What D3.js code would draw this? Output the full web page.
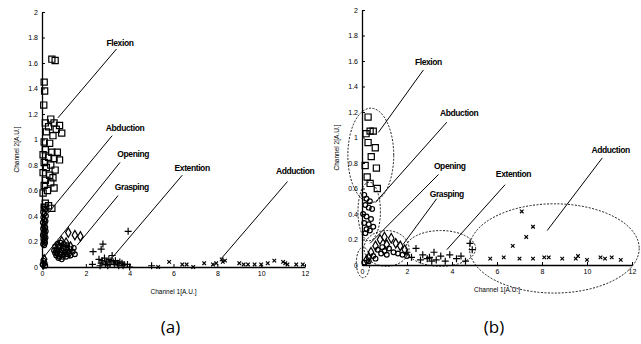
<!DOCTYPE html>
<html>
<head>
<meta charset="utf-8">
<script src="https://cdn.jsdelivr.net/npm/d3@7"></script>
<style>
  body { margin: 0; background: #fff; }
  svg { display: block; font-family: "Liberation Sans", Arial, sans-serif; }
</style>
</head>
<body>
<svg width="641" height="344"></svg>
<script>
// ---- data (Channel 1, Channel 2) in A.U. ----
const xTicks = [0, 2, 4, 6, 8, 10, 12];
const yTicks = [0, 0.2, 0.4, 0.6, 0.8, 1, 1.2, 1.4, 1.6, 1.8, 2];

// panel (a)
const flexionA = [[0.45,1.63],[0.6,1.62],[0.1,1.45],[0.12,1.38],[0.08,1.27],[0.15,1.13],[0.4,1.16],[0.55,1.13],[0.8,1.11],[0.3,1.1],[0.65,1.08],[0.9,1.05],[0.2,1.06],[0.5,1.03],[0.1,0.98],[0.35,0.97],[0.15,0.92],[0.45,0.9],[0.7,0.9],[0.05,0.88],[0.3,0.86],[0.55,0.85],[0.8,0.84],[0.1,0.82],[0.4,0.8],[0.2,0.78],[0.6,0.76],[0.05,0.74],[0.35,0.72],[0.5,0.7],[0.15,0.68],[0.4,0.66],[0.1,0.64],[0.55,0.62],[0.25,0.6],[0.05,0.58],[0.15,0.5],[0.3,0.48],[0.45,0.46],[0.1,0.47]];
const abductionA = [[0.08,0.47],[0.15,0.45],[0.05,0.43],[0.12,0.42],[0.18,0.4],[0.06,0.39],[0.1,0.37],[0.16,0.36],[0.04,0.35],[0.12,0.34],[0.08,0.32],[0.15,0.31],[0.05,0.3],[0.11,0.29],[0.17,0.28],[0.07,0.27],[0.13,0.26],[0.04,0.25],[0.1,0.24],[0.16,0.23],[0.06,0.22],[0.12,0.21],[0.08,0.2],[0.14,0.19],[0.05,0.18],[0.1,0.17],[0.06,0.05],[0.12,0.03],[0.03,0.02],[0.15,0.01]];
const openingA = [[1.2,0.27],[1.5,0.25],[1.75,0.24],[0.9,0.2],[1.1,0.19],[0.75,0.17],[1.3,0.16],[1.0,0.14],[0.65,0.12],[1.25,0.11],[0.1,0.06],[0.05,0.02]];
const graspingA = [[0.7,0.18],[0.85,0.19],[1.0,0.18],[1.15,0.17],[0.6,0.16],[0.8,0.16],[0.95,0.15],[1.1,0.15],[1.3,0.14],[0.65,0.14],[0.75,0.13],[0.9,0.13],[1.05,0.12],[1.2,0.12],[1.4,0.12],[0.6,0.11],[0.7,0.11],[0.85,0.1],[1.0,0.1],[1.15,0.1],[1.3,0.09],[0.65,0.09],[0.8,0.08],[0.95,0.08],[1.1,0.08],[0.75,0.07],[0.9,0.06],[1.5,0.1],[1.45,0.15],[0.55,0.13]];
const extentionA = [[2.33,0.12],[2.7,0.14],[2.78,0.18],[3.93,0.28],[3.2,0.09],[2.6,0.06],[2.75,0.05],[2.85,0.07],[2.95,0.04],[3.05,0.06],[3.15,0.05],[3.25,0.04],[3.35,0.05],[3.45,0.03],[3.55,0.04],[3.65,0.03],[3.75,0.02],[3.9,0.02],[2.7,0.03],[2.9,0.02],[3.1,0.02],[3.3,0.02],[3.5,0.01],[2.65,0.01],[3.0,0.01],[3.7,0.01],[5.0,0.01],[2.3,0.02],[4.0,0.0]];
const adductionA = [[5.8,0.04],[6.4,0.02],[6.6,0.02],[7.4,0.03],[7.8,0.02],[7.95,0.03],[8.2,0.06],[8.35,0.05],[8.25,0.04],[9.0,0.03],[9.2,0.02],[9.4,0.02],[9.7,0.02],[10.0,0.02],[10.3,0.03],[10.6,0.05],[11.0,0.04],[11.1,0.03],[11.2,0.02],[11.6,0.02],[11.9,0.02],[6.9,0.0],[5.3,0.0]];

// panel (b)
const flexionB = [[0.27,1.16],[0.18,1.03],[0.36,1.05],[0.5,1.05],[0.27,0.96],[0.59,0.92],[0.41,0.85],[0.14,0.78],[0.64,0.76],[0.23,0.69],[0.36,0.64],[0.68,0.6]];
const abductionB = [[0.1,0.55],[0.2,0.52],[0.35,0.5],[0.15,0.47],[0.3,0.45],[0.45,0.44],[0.05,0.4],[0.2,0.38],[0.4,0.36],[0.1,0.33],[0.3,0.32],[0.5,0.3],[0.2,0.28],[0.35,0.27],[0.15,0.25]];
const openingB = [[0.8,0.2],[1.0,0.22],[1.3,0.21],[1.5,0.17],[1.7,0.15],[0.6,0.15],[1.1,0.16],[0.4,0.1],[0.3,0.06],[1.9,0.12],[0.2,0.04]];
const graspingB = [[0.7,0.12],[0.9,0.14],[1.0,0.11],[1.2,0.13],[0.85,0.09],[1.1,0.08],[1.4,0.1],[0.5,0.07],[0.6,0.05],[0.3,0.03],[0.1,0.02],[1.6,0.09],[1.8,0.08],[2.0,0.07]];
const extentionB = [[2.4,0.13],[2.7,0.08],[2.9,0.05],[3.0,0.06],[3.2,0.1],[3.3,0.04],[3.5,0.07],[3.7,0.03],[3.9,0.08],[4.2,0.05],[4.4,0.07],[4.8,0.17],[4.9,0.12],[4.6,0.03],[2.2,0.06],[2.0,0.1],[3.1,0.03],[2.6,0.04]];
const adductionB = [[7.1,0.42],[7.6,0.3],[7.3,0.22],[6.7,0.15],[5.7,0.05],[6.3,0.06],[7.0,0.05],[7.6,0.05],[8.1,0.06],[8.3,0.06],[8.9,0.05],[9.5,0.05],[9.6,0.07],[10.0,0.04],[10.6,0.06],[10.8,0.05],[11.1,0.06],[11.5,0.04]];

// cluster ellipses in panel (b): [cx, cy, rx, ry]
const ellipsesB = [[0.39,0.86,1.02,0.37],[0.32,0.42,0.5,0.23],[1.09,0.13,1.0,0.14],[3.5,0.13,1.55,0.14],[8.55,0.13,3.77,0.35],[0.05,0.02,0.3,0.12]];

// annotations: [label, textX, textY, lineFromX, lineFromY, lineToX, lineToY]
const labelsA = [
  ["Flexion", 3.56, 1.76, 3.4, 1.71, 0.73, 1.17],
  ["Abduction", 3.79, 1.09, 3.2, 1.03, 0.27, 0.42],
  ["Opening", 4.16, 0.89, 3.56, 0.82, 0.05, 0.07],
  ["Grasping", 4.1, 0.63, 3.47, 0.56, 1.6, 0.17],
  ["Extention", 6.85, 0.78, 6.4, 0.72, 3.24, 0.08],
  ["Adduction", 11.55, 0.75, 11.2, 0.67, 8.2, 0.07]
];
const labelsB = [
  ["Flexion", 2.95, 1.59, 2.73, 1.53, 0.73, 1.04],
  ["Abduction", 4.32, 1.19, 3.77, 1.12, 0.59, 0.49],
  ["Opening", 3.9, 0.78, 3.4, 0.71, 0.36, 0.17],
  ["Grasping", 3.77, 0.56, 3.32, 0.52, 1.82, 0.16],
  ["Extention", 6.73, 0.71, 6.36, 0.63, 3.77, 0.12],
  ["Adduction", 11.05, 0.9, 10.68, 0.84, 8.23, 0.27]
];

const svg = d3.select("svg");
const ink = "#000";

function drawPanel(opts) {
  const x = d3.scaleLinear().domain([0, 12]).range([opts.x0, opts.x1]);
  const y = d3.scaleLinear().domain([0, 2]).range([opts.y0, opts.y1]);
  const g = svg.append("g");

  // axes (ticks point inward, MATLAB style)
  const xa = g.append("g").attr("transform", `translate(0,${opts.y0})`)
    .call(d3.axisBottom(x).tickValues(xTicks).tickSizeInner(-3).tickSizeOuter(0).tickPadding(4).tickFormat(d3.format("~g")));
  const ya = g.append("g").attr("transform", `translate(${opts.x0},0)`)
    .call(d3.axisLeft(y).tickValues(yTicks).tickSizeInner(-3).tickSizeOuter(0).tickPadding(4).tickFormat(d3.format("~g")));
  [xa, ya].forEach(a => {
    a.select(".domain").attr("stroke", ink).attr("stroke-width", 1.3);
    a.selectAll(".tick line").attr("stroke", ink);
    a.selectAll("text").attr("font-size", 7).attr("fill", ink).attr("font-family", "Liberation Sans, Arial, sans-serif");
  });

  g.append("text").attr("x", (opts.x0 + opts.x1) / 2).attr("y", opts.y0 + 27)
    .attr("text-anchor", "middle").attr("font-size", 6.5).attr("fill", ink).text("Channel 1[A.U.]");
  g.append("text").attr("transform", `translate(${opts.x0 - 23},${(opts.y0 + opts.y1) / 2 + 10}) rotate(-90)`)
    .attr("text-anchor", "middle").attr("font-size", 6.5).attr("fill", ink).text("Channel 2[A.U.]");

  // ellipses
  if (opts.ellipses) {
    g.append("g").selectAll("ellipse").data(opts.ellipses).enter().append("ellipse")
      .attr("cx", d => x(d[0])).attr("cy", d => y(d[1]))
      .attr("rx", d => x(d[0] + d[2]) - x(d[0])).attr("ry", d => y(d[1]) - y(d[1] + d[3]))
      .attr("fill", "none").attr("stroke", ink).attr("stroke-width", 0.9).attr("stroke-dasharray", "2,1.5");
  }

  const sym = (type, size) => d3.symbol().type(type).size(size);
  const series = [
    [opts.flexion, d3.symbolSquare, 38],
    [opts.abduction, d3.symbolCircle, 18],
    [opts.opening, d3.symbolDiamond, 26],
    [opts.grasping, d3.symbolCircle, 18],
    [opts.extention, d3.symbolCross, 14],
    [opts.adduction, d3.symbolX, 10]
  ];
  series.forEach(([data, type, size]) => {
    g.append("g").selectAll("path").data(data).enter().append("path")
      .attr("transform", d => `translate(${x(d[0])},${y(d[1])})`)
      .attr("d", type === d3.symbolCross ? plus() : sym(type, size)())
      .attr("fill", "none").attr("stroke", ink).attr("stroke-width", 1.2);
  });

  // leader lines and labels
  const lab = g.append("g").selectAll("g").data(opts.labels).enter().append("g");
  lab.append("line")
    .attr("x1", d => x(d[3])).attr("y1", d => y(d[4]))
    .attr("x2", d => x(d[5])).attr("y2", d => y(d[6]))
    .attr("stroke", ink).attr("stroke-width", 1);
  lab.append("text").attr("x", d => x(d[1])).attr("y", d => y(d[2]))
    .attr("text-anchor", "middle").attr("dy", "0.35em")
    .attr("font-size", 8.5).attr("font-weight", "bold").attr("letter-spacing", -0.4).attr("fill", ink).text(d => d[0]);

  svg.append("text").attr("x", (opts.x0 + opts.x1) / 2 - 3).attr("y", 333)
    .attr("text-anchor", "middle").attr("font-size", 17).attr("fill", ink)
    .attr("font-family", "Open Sans, DejaVu Sans, sans-serif").text(opts.tag);
}

function plus() {
  return "M-3.5,0H3.5M0,-3.5V3.5";
}

drawPanel({ x0: 42, x1: 305, y0: 267, y1: 12, tag: "(a)",
  flexion: flexionA, abduction: abductionA, opening: openingA, grasping: graspingA,
  extention: extentionA, adduction: adductionA, labels: labelsA });
drawPanel({ x0: 362, x1: 632, y0: 265, y1: 10, tag: "(b)", ellipses: ellipsesB,
  flexion: flexionB, abduction: abductionB, opening: openingB, grasping: graspingB,
  extention: extentionB, adduction: adductionB, labels: labelsB });
</script>
</body>
</html>
